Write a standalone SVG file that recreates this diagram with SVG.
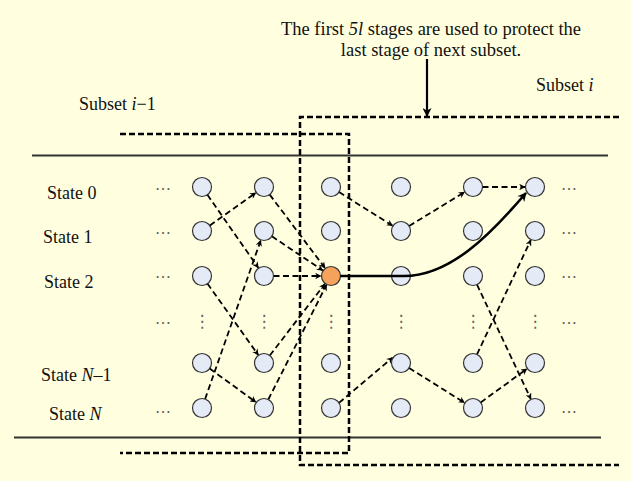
<svg xmlns="http://www.w3.org/2000/svg" width="631" height="481" viewBox="0 0 631 481">
<defs>
<style>
text{font-family:"Liberation Serif","Times New Roman",serif;font-size:18px;fill:#111}
.dots{font-size:16px;fill:#555}
.vd{font-family:"DejaVu Sans",sans-serif;font-size:17px;fill:#666;text-anchor:middle}
.n{fill:#E4EBF7;stroke:#333;stroke-width:1.2}
.o{fill:#F5A25D;stroke:#333;stroke-width:1.2}
.e{fill:none;stroke:#000;stroke-width:1.8;stroke-dasharray:6 3.5;marker-end:url(#ah)}
.box{fill:none;stroke:#000;stroke-width:2.5;stroke-dasharray:6 3}
.rule{stroke:#333;stroke-width:2}
</style>
<marker id="ah" viewBox="0 0 10 10" refX="9" refY="5" markerWidth="7" markerHeight="6.5" markerUnits="userSpaceOnUse" orient="auto">
<path d="M0,0 L10,5 L0,10 L3,5 Z" fill="#000"/>
</marker>
<marker id="ahb" viewBox="0 0 10 10" refX="9" refY="5" markerWidth="10" markerHeight="9" markerUnits="userSpaceOnUse" orient="auto">
<path d="M0,0 L10,5 L0,10 L3,5 Z" fill="#000"/>
</marker>
</defs>
<rect x="0" y="0" width="631" height="481" fill="#FFFFE0"/>

<g id="annotation">
<text x="431" y="35" text-anchor="middle" style="font-size:18.5px">The first <tspan font-style="italic">5l</tspan> stages are used to protect the</text>
<text x="431" y="56" text-anchor="middle" style="font-size:18.5px">last stage of next subset.</text>
<line x1="427" y1="59" x2="427" y2="116" stroke="#000" stroke-width="2.2" marker-end="url(#ahb)"/>
</g>
<g id="subset-labels">
<text x="536" y="91">Subset <tspan font-style="italic">i</tspan></text>
<text x="79" y="110">Subset <tspan font-style="italic">i</tspan>−1</text>
</g>

<g id="rules">
<line class="rule" x1="32" y1="155.5" x2="608" y2="155.5"/>
<line class="rule" x1="14" y1="437.5" x2="601" y2="437.5"/>
</g>

<g id="subset-boxes">
<path class="box" d="M120,134 H349 V453 H120"/>
<path class="box" d="M619,117 H300 V465 H619"/>
</g>

<g id="state-labels">
<text x="47" y="199">State 0</text>
<text x="43" y="243">State 1</text>
<text x="44" y="288">State 2</text>
<text x="41" y="381">State <tspan font-style="italic">N</tspan>–1</text>
<text x="49" y="420">State <tspan font-style="italic">N</tspan></text>
</g>

<g id="ellipses">
<text class="dots" x="155" y="190">…</text>
<text class="dots" x="155" y="234">…</text>
<text class="dots" x="155" y="278">…</text>
<text class="dots" x="155" y="324">…</text>
<text class="dots" x="155" y="413">…</text>
<text class="dots" x="561" y="190">…</text>
<text class="dots" x="561" y="234">…</text>
<text class="dots" x="561" y="278">…</text>
<text class="dots" x="561" y="324">…</text>
<text class="dots" x="561" y="413">…</text>
<text class="vd" x="202" y="327">⋮</text>
<text class="vd" x="264" y="327">⋮</text>
<text class="vd" x="331" y="327">⋮</text>
<text class="vd" x="401" y="327">⋮</text>
<text class="vd" x="473" y="327">⋮</text>
<text class="vd" x="535" y="327">⋮</text>
</g>

<g id="connectors">
<line class="e" x1="207.4" y1="194.8" x2="258.3" y2="267.8"/>
<line class="e" x1="209.8" y1="225.5" x2="255.8" y2="192.8"/>
<line class="e" x1="269.7" y1="194.6" x2="325.0" y2="268.0"/>
<line class="e" x1="271.9" y1="236.3" x2="322.7" y2="270.4"/>
<line class="e" x1="273.5" y1="276" x2="321" y2="276"/>
<line class="e" x1="207.5" y1="283.7" x2="258.2" y2="354.9"/>
<line class="e" x1="205.1" y1="399.0" x2="260.7" y2="240.4"/>
<line class="e" x1="209.7" y1="368.6" x2="255.9" y2="402.1"/>
<line class="e" x1="269.8" y1="355.5" x2="324.9" y2="283.9"/>
<line class="e" x1="268.3" y1="399.5" x2="326.5" y2="284.9"/>
<line class="e" x1="339.0" y1="192.1" x2="392.5" y2="225.7"/>
<line class="e" x1="409.1" y1="226.0" x2="464.5" y2="192.2"/>
<line class="e" x1="482.5" y1="187" x2="525" y2="187"/>
<line class="e" x1="477.0" y1="284.6" x2="530.8" y2="399.0"/>
<line class="e" x1="477.0" y1="354.4" x2="530.8" y2="240.0"/>
<line class="e" x1="480.7" y1="402.4" x2="526.9" y2="368.9"/>
<line class="e" x1="409.1" y1="368.0" x2="464.5" y2="402.7"/>
<line class="e" x1="339.0" y1="402.9" x2="392.6" y2="357.6"/>
</g>

<g id="nodes">
<g id="n00"><circle class="n" cx="202" cy="187" r="9.5"/></g>
<g id="n01"><circle class="n" cx="202" cy="231" r="9.5"/></g>
<g id="n02"><circle class="n" cx="202" cy="276" r="9.5"/></g>
<g id="n03"><circle class="n" cx="202" cy="363" r="9.5"/></g>
<g id="n04"><circle class="n" cx="202" cy="408" r="9.5"/></g>
<g id="n10"><circle class="n" cx="264" cy="187" r="9.5"/></g>
<g id="n11"><circle class="n" cx="264" cy="231" r="9.5"/></g>
<g id="n12"><circle class="n" cx="264" cy="276" r="9.5"/></g>
<g id="n13"><circle class="n" cx="264" cy="363" r="9.5"/></g>
<g id="n14"><circle class="n" cx="264" cy="408" r="9.5"/></g>
<g id="n20"><circle class="n" cx="331" cy="187" r="9.5"/></g>
<g id="n21"><circle class="n" cx="331" cy="231" r="9.5"/></g>
<g id="n22"><circle class="o" cx="331" cy="276" r="9.5"/></g>
<g id="n23"><circle class="n" cx="331" cy="363" r="9.5"/></g>
<g id="n24"><circle class="n" cx="331" cy="408" r="9.5"/></g>
<g id="n30"><circle class="n" cx="401" cy="187" r="9.5"/></g>
<g id="n31"><circle class="n" cx="401" cy="231" r="9.5"/></g>
<g id="n32"><circle class="n" cx="401" cy="276" r="9.5"/></g>
<g id="n33"><circle class="n" cx="401" cy="363" r="9.5"/></g>
<g id="n34"><circle class="n" cx="401" cy="408" r="9.5"/></g>
<g id="n40"><circle class="n" cx="473" cy="187" r="9.5"/></g>
<g id="n41"><circle class="n" cx="473" cy="231" r="9.5"/></g>
<g id="n42"><circle class="n" cx="473" cy="276" r="9.5"/></g>
<g id="n43"><circle class="n" cx="473" cy="363" r="9.5"/></g>
<g id="n44"><circle class="n" cx="473" cy="408" r="9.5"/></g>
<g id="n50"><circle class="n" cx="535" cy="187" r="9.5"/></g>
<g id="n51"><circle class="n" cx="535" cy="231" r="9.5"/></g>
<g id="n52"><circle class="n" cx="535" cy="276" r="9.5"/></g>
<g id="n53"><circle class="n" cx="535" cy="363" r="9.5"/></g>
<g id="n54"><circle class="n" cx="535" cy="408" r="9.5"/></g>
</g>

<g id="path-highlight">
<path d="M340.5,276 H404 C450,276 490,235 526,193" fill="none" stroke="#000" stroke-width="2.6" marker-end="url(#ahb)"/>
</g>
</svg>
